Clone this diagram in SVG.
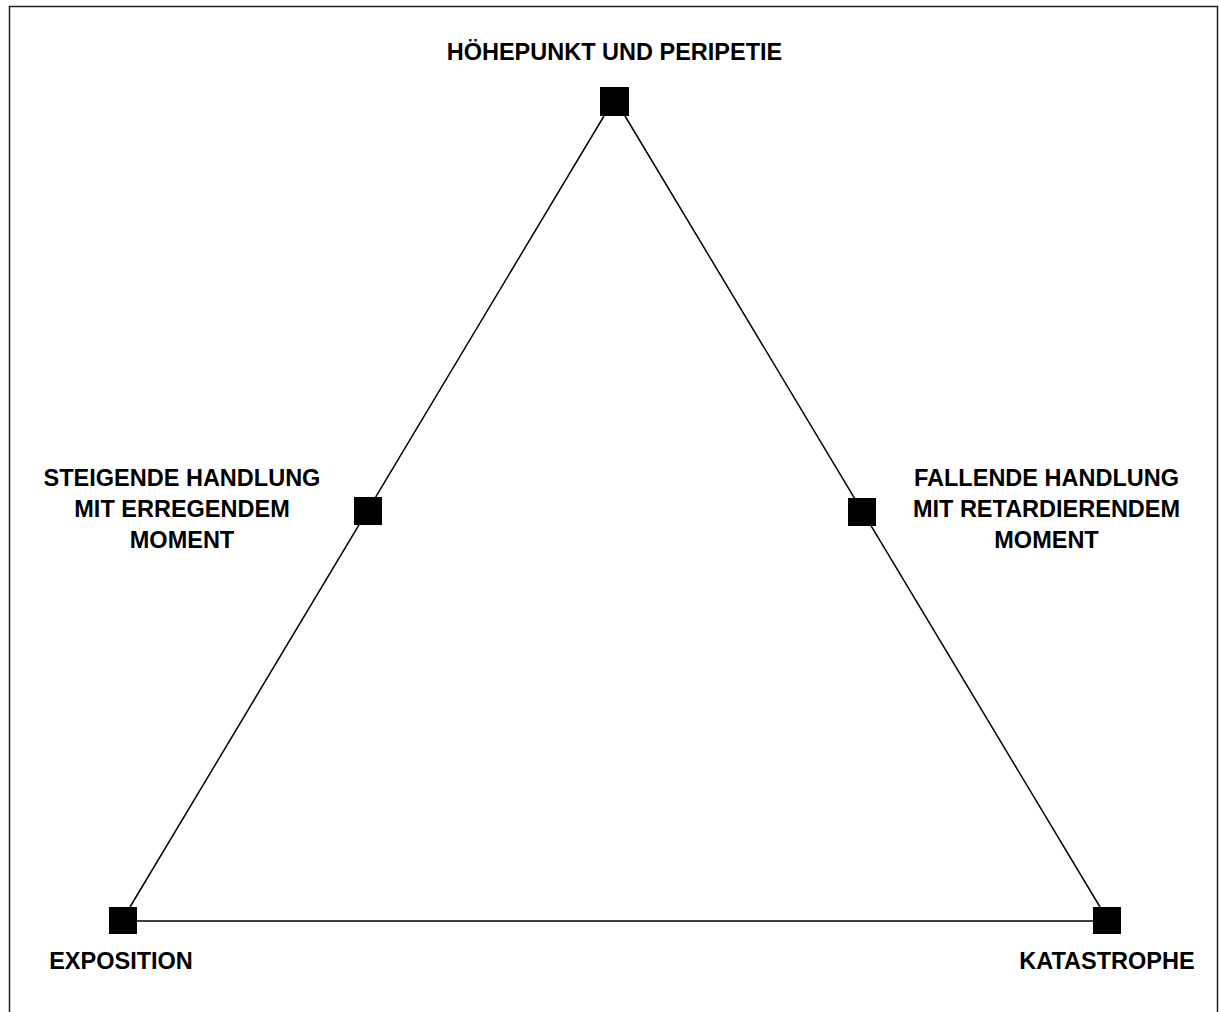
<svg xmlns="http://www.w3.org/2000/svg" width="1219" height="1012" viewBox="0 0 1219 1012">
<style>
.lbl{font-family:"Liberation Sans",Arial,sans-serif;font-weight:bold;font-size:23.5px;fill:#000;text-anchor:middle}
.node{fill:#000}
.edge{stroke:#000;stroke-width:1.5;fill:none}
</style>
<rect x="0" y="0" width="1219" height="1012" fill="#fff"/>
<rect x="9.5" y="6.5" width="1208" height="1020" fill="none" stroke="#222" stroke-width="1.5"/>
<g id="connectors">
<line class="edge" x1="130" y1="907" x2="604" y2="116"/>
<line class="edge" x1="625" y1="116" x2="1100" y2="907"/>
<line class="edge" x1="136" y1="921" x2="1094" y2="921"/>
</g>
<g id="node-top">
<rect class="node" x="600" y="87" width="29" height="29"/>
<text class="lbl" x="614.5" y="60">HÖHEPUNKT UND PERIPETIE</text>
</g>
<g id="node-left">
<rect class="node" x="354" y="497" width="28" height="28"/>
<text class="lbl" x="182" y="486">STEIGENDE HANDLUNG</text>
<text class="lbl" x="182" y="517">MIT ERREGENDEM</text>
<text class="lbl" x="182" y="548">MOMENT</text>
</g>
<g id="node-right">
<rect class="node" x="848" y="498" width="28" height="28"/>
<text class="lbl" x="1046.5" y="486">FALLENDE HANDLUNG</text>
<text class="lbl" x="1046.5" y="517">MIT RETARDIERENDEM</text>
<text class="lbl" x="1046.5" y="548">MOMENT</text>
</g>
<g id="node-exposition">
<rect class="node" x="109" y="907" width="28" height="27"/>
<text class="lbl" x="121" y="969">EXPOSITION</text>
</g>
<g id="node-katastrophe">
<rect class="node" x="1093" y="907" width="28" height="27"/>
<text class="lbl" x="1107" y="969">KATASTROPHE</text>
</g>
</svg>
